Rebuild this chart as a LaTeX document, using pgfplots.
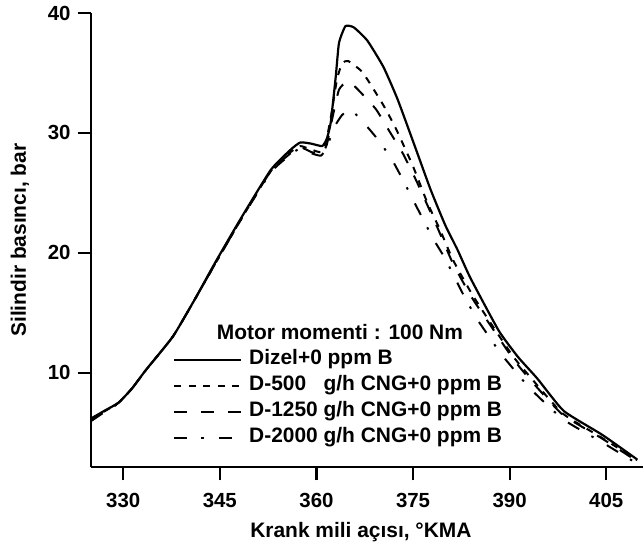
\documentclass[border=0pt]{standalone}
\usepackage{pgfplots}
\pgfplotsset{compat=1.18}
\usepackage{fontspec}
\setmainfont{Liberation Sans}
\begin{document}
\begin{tikzpicture}
\begin{axis}[
  scale only axis,
  width=552bp, height=454.3bp,
  xmin=325, xmax=410.7, ymin=2.1, ymax=40,
  axis x line=bottom, axis y line=left,
  axis line style={-, line width=2.2bp},
  xtick={330,345,360,375,390,405}, ytick={10,20,30,40},
  tick align=outside, major tick length=13bp,
  every tick/.style={black, line width=2.2bp},
  /pgf/number format/assume math mode=true,
  ticklabel style={font=\fontsize{20.5}{24}\selectfont\bfseries},
  xticklabel style={yshift=-9bp},
  yticklabel style={xshift=-4bp},
  label style={font=\fontsize{21}{25}\selectfont\bfseries},
  xlabel={Krank mili açısı, °KMA},
  ylabel={Silindir basıncı, bar},
  xlabel style={at={(axis description cs:0.489,0)}, anchor=base, yshift=-70bp},
  ylabel style={at={(axis description cs:-0.1178,0.5)}, anchor=base},
  legend style={draw=none, fill=none, at={(axis description cs:0.1486,0.2566)}, anchor=north west,
    inner sep=0pt, outer sep=0pt, row sep=8bp,
    font=\fontsize{21}{25}\selectfont\bfseries,
    nodes={inner sep=0pt, text height=14bp, text depth=4bp},
    /tikz/every odd column/.append style={column sep=7bp}},
  legend cell align=left,
  legend image code/.code={\draw[#1] (0bp,0bp) -- (67bp,0bp);},
  every axis plot/.append style={black, line join=round, smooth, tension=0.3},
]
\addplot[line width=2.2bp] coordinates {
(325.1,6.2) (327.2,6.85) (329.3,7.5) (331.4,8.7) (333.5,10.2) (337.7,13.0) (341,16.0) (344.3,19.2) (348.2,22.8) (352.9,26.9) (356.0,28.6) (357.5,29.2) (359.2,29.1) (360.9,28.9) (361.6,29.5) (362.2,30.8) (363.0,34.7) (363.5,37.5) (364.5,38.9) (365.8,38.8) (367.9,37.7) (370.4,35.5) (372.6,32.8) (375.2,29.0) (377.7,25.3) (380,22.3) (381.9,20.25) (383.9,17.9) (388.3,13.5) (391.3,11.3) (394.3,9.5) (398.4,6.8) (404.4,4.8) (409.8,2.75)
};
\addlegendentry{Dizel+0 ppm B}
\addplot[line width=2bp, dash pattern=on 7bp off 7.5bp] coordinates {
(325.1,6.1) (327.2,6.8) (329.3,7.5) (331.4,8.7) (333.5,10.2) (337.7,13.0) (341,16.0) (344.3,19.1) (348.2,22.7) (352.9,26.8) (356.0,28.4) (357.5,28.9) (359.2,28.6) (360.7,28.4) (361.5,29.3) (362.3,31.5) (363.2,34.5) (364.0,35.8) (364.9,36.0) (366.9,35.2) (368.1,34.3) (370.4,32.3) (372.3,30.4) (375.0,27.2) (377.2,24.2) (379.2,21.9) (381.2,19.4) (384.2,16.5) (387.7,13.6) (390.6,11.3) (393.4,9.5) (398.2,6.6) (404.2,4.6) (409.8,2.7)
};
\addlegendentry{D-500\phantom{0} g/h CNG+0 ppm B}
\addplot[line width=2bp, dash pattern=on 13bp off 14bp] coordinates {
(325.1,6.0) (327.2,6.8) (329.3,7.5) (331.4,8.7) (333.5,10.2) (337.7,13.0) (341,16.0) (344.3,19.1) (348.2,22.7) (352.9,26.8) (356.0,28.3) (357.5,28.8) (359.2,28.4) (360.7,28.2) (361.6,29.0) (362.5,31.3) (363.5,33.6) (364.8,34.3) (366.1,33.8) (369.2,32.0) (371.2,30.25) (373.5,28.2) (375.6,25.9) (378.7,22.2) (381.2,19.1) (384.2,16.2) (387.7,13.4) (390.6,11.1) (393.2,9.4) (398.2,6.5) (404.2,4.55) (409.8,2.6)
};
\addlegendentry{D-1250 g/h CNG+0 ppm B}
\addplot[line width=2bp, dash pattern=on 13bp off 14bp on 2.5bp off 15.5bp] coordinates {
(325.1,6.0) (327.2,6.75) (329.3,7.45) (331.4,8.7) (333.5,10.2) (337.7,13.0) (341,16.0) (344.3,19.1) (348.2,22.7) (352.9,26.7) (356.0,28.2) (357.5,28.7) (359.2,28.3) (360.7,28.1) (361.6,28.8) (362.8,30.5) (364.0,31.5) (365.4,31.9) (367.9,30.5) (369.9,29.2) (371.9,27.6) (373.5,26.0) (375.0,24.4) (376.6,22.75) (378.2,21.1) (380.0,19.5) (381.4,18.0) (383.1,16.2) (384.9,14.5) (386.8,13.0) (388.6,11.6) (390.9,10.1) (393.3,8.6) (398.3,6.1) (404.3,4.2) (409.8,2.4)
};
\addlegendentry{D-2000 g/h CNG+0 ppm B}
\node[font=\fontsize{21}{25}\selectfont\bfseries, anchor=base] at (axis description cs:0.451,0.2813) {Motor momenti : 100 Nm};
\end{axis}
\pgfresetboundingbox
\path[use as bounding box] (-91bp,-74.7bp) rectangle (552bp,467.3bp);
\end{tikzpicture}
\end{document}
